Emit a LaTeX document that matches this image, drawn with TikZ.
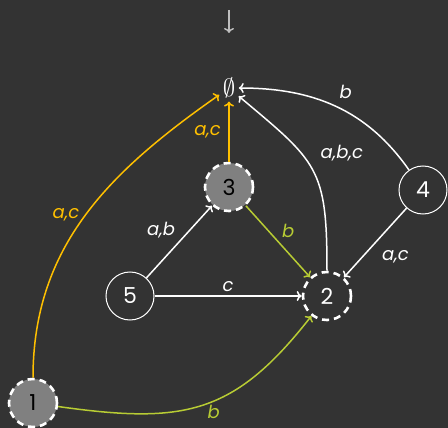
\documentclass[tikz,border=0pt]{standalone}
\usepackage{fontspec}
\setmainfont{Poppins}
\usetikzlibrary{arrows.meta}

\definecolor{bgdark}{RGB}{51,51,51}
\definecolor{goldc}{RGB}{255,192,0}
\definecolor{limec}{RGB}{184,204,52}
\definecolor{grayfill}{RGB}{128,128,128}

\tikzset{
    state/.style={circle, draw=white, line width=1pt, minimum size=48pt, inner sep=0pt, text=white, font=\fontsize{22}{22}\selectfont},
    marked/.style={draw=white, line width=2.6pt, dash pattern=on 7pt off 5pt},
    shaded/.style={fill=grayfill, text=black},
    edge/.style={line width=1.5pt, -{To[length=5pt,width=10pt]}},
    lbl/.style={font=\fontsize{18}{18}\selectfont\itshape}
}

\begin{document}
\begin{tikzpicture}[x=1pt, y=-1pt]

    \fill[bgdark] (0,0) rectangle (448,428);
    \useasboundingbox (0,0) rectangle (448,428);

    \coordinate (init) at (229,10);
    \coordinate (initend) at (229,33);
    \node[text=white, font=\fontsize{30}{30}\selectfont] (empty) at (229,88) {$\emptyset$};
    \node[state, shaded, marked] (n3) at (229,187) {3};
    \node[state] (n4) at (423,190) {4};
    \node[state] (n5) at (130,296) {5};
    \node[state, marked] (n2) at (327,296) {2};
    \node[state, shaded, marked] (n1) at (33,403) {1};

    \draw[edge, draw=lightgray] (init) -- (initend);

    \draw[edge, draw=goldc] (n3) -- (empty) node[midway, left, xshift=-4pt, lbl, text=goldc] {a,c};
    \draw[edge, draw=goldc] (n1) to[out=90, in=215] node[pos=0.5, left, xshift=-2pt, lbl, text=goldc] {a,c} (empty);
    \draw[edge, draw=limec] (n1) to[out=-8, in=232, looseness=1.2] node[pos=0.55, below, lbl, text=limec] {b} (n2);
    \draw[edge, draw=limec] (n3) -- (n2) node[midway, above right, lbl, text=limec] {b};
    \draw[edge, draw=white] (n5) -- (n3) node[midway, above left, lbl, text=white] {a,b};
    \draw[edge, draw=white] (n5) -- (n2) node[midway, above, lbl, text=white] {c};
    \draw[edge, draw=white] (n4) to[out=125, in=0] node[pos=0.5, above right, yshift=4pt, lbl, text=white] {b} (empty);
    \draw[edge, draw=white] (n2) to[out=90, in=-40, looseness=1.35] node[pos=0.55, right, xshift=8pt, yshift=10pt, lbl, text=white] {a,b,c} (empty);
    \draw[edge, draw=white] (n4) -- (n2) node[pos=0.55, below right, xshift=6pt, lbl, text=white] {a,c};

\end{tikzpicture}
\end{document}
